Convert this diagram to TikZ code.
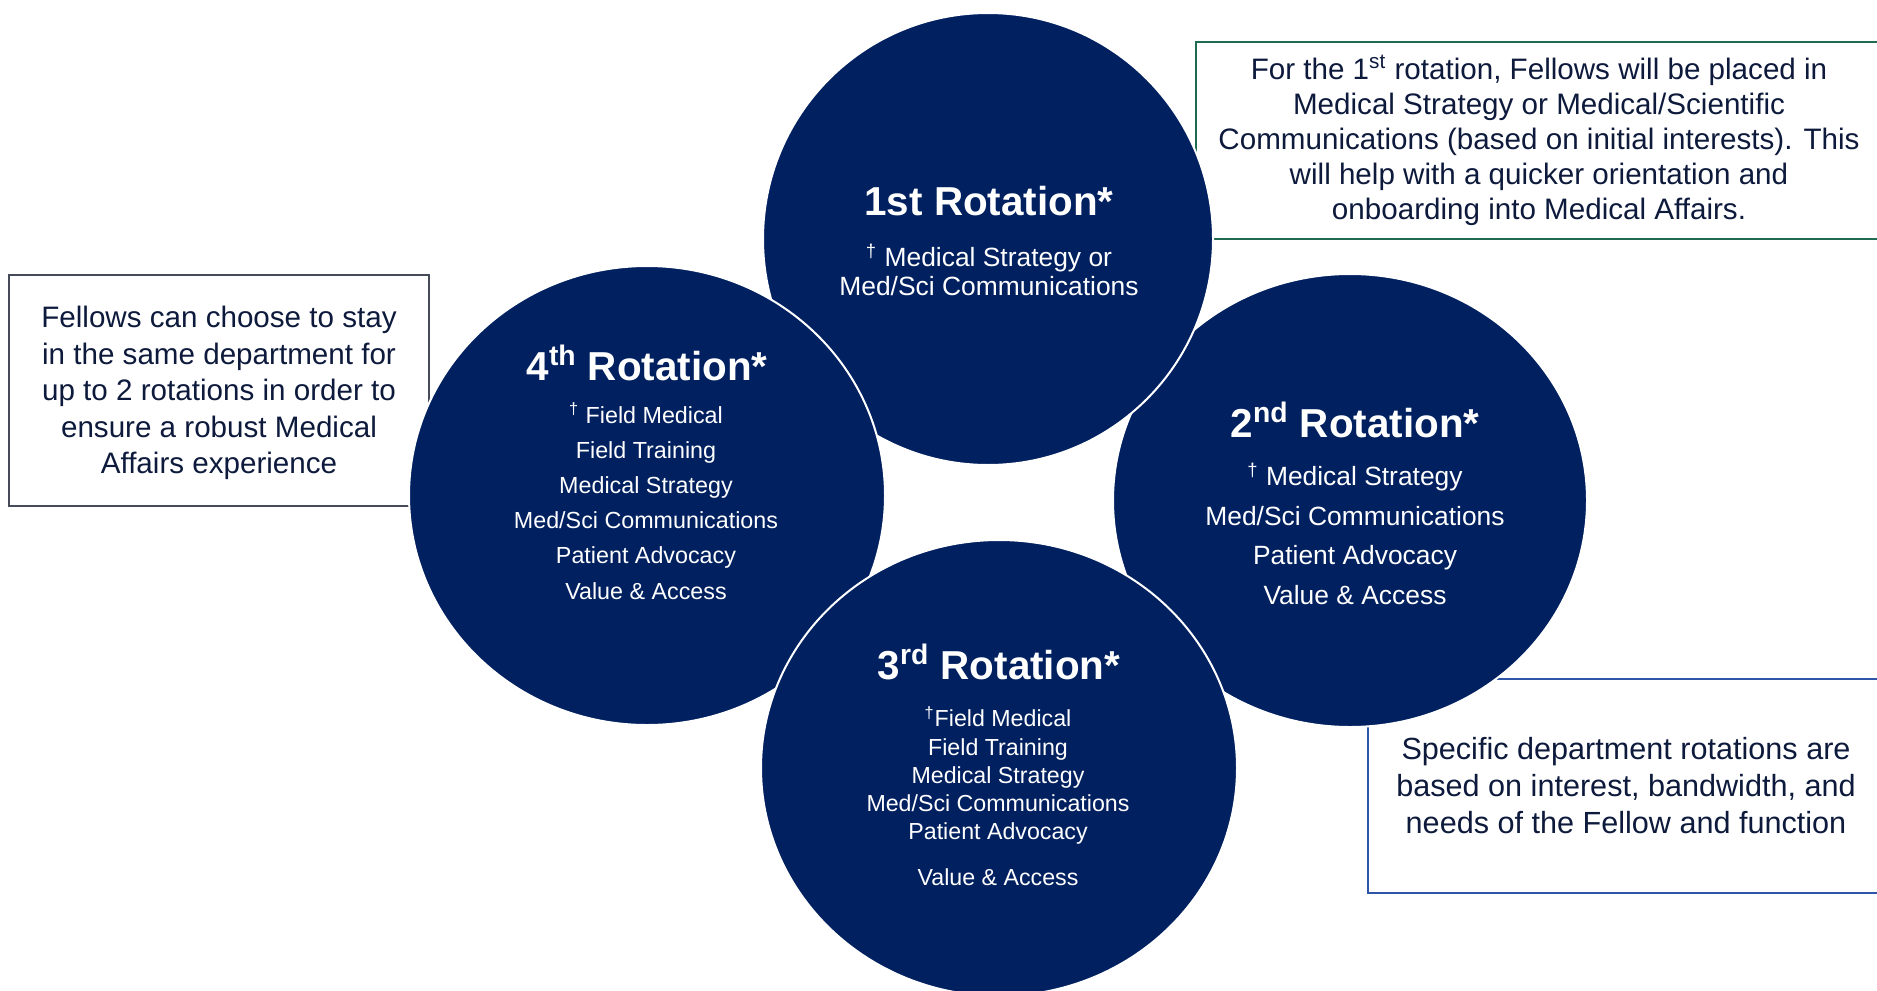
\documentclass[tikz,border=0pt]{standalone}
\usepackage{fontspec}
\setmainfont{Liberation Sans}
\usetikzlibrary{shapes.geometric}
\definecolor{navy}{HTML}{002060}
\definecolor{ink}{HTML}{0D1A3C}
\definecolor{boxgreen}{HTML}{1E6B50}
\definecolor{boxgray}{HTML}{454B58}
\definecolor{boxblue}{HTML}{2F55A8}
\begin{document}
\begin{tikzpicture}[x = 0.5pt, y = -0.5pt,
                    rnode/.style = {shape = ellipse,
                                    fill = navy,
                                    draw = white,
                                    line width = 1pt,
                                    inner sep = 0pt},
                    tnode/.style = {text = white,
                                    inner sep = 0pt,
                                    font = \fontsize{20.2}{24}\selectfont\bfseries},
                    bnode/.style = {text = white,
                                    inner sep = 0pt,
                                    align = center},
                    note/.style = {shape = rectangle,
                                   line width = 1pt,
                                   text = ink,
                                   align = center,
                                   inner sep = 0pt}]
		\useasboundingbox (0,0) rectangle (1877,990);
		\clip (0,0) rectangle (1877,990);
		% side notes, behind the circles
		\node[note, draw = boxgray, minimum width = 210pt, minimum height = 115.5pt,
		      font = \fontsize{14.8}{18.25}\selectfont] (left) at (219,390.5)
		      {\\[-5pt]Fellows can choose to stay\\in the same department for\\up to 2 rotations in order to\\ensure a robust Medical\\Affairs experience};
		\node[note, draw = boxgreen, minimum width = 343pt, minimum height = 98.5pt,
		      font = \fontsize{14.8}{17.5}\selectfont] (top) at (1539,140.5)
		      {For the 1\textsuperscript{st} rotation, Fellows will be placed in\\Medical Strategy or Medical/Scientific\\Communications (based on initial interests). This\\will help with a quicker orientation and\\onboarding into Medical Affairs.};
		\node[note, draw = boxblue, minimum width = 258pt, minimum height = 107pt,
		      font = \fontsize{15.3}{18.5}\selectfont] (bottom) at (1626,786)
		      {Specific department rotations are\\based on interest, bandwidth, and\\needs of the Fellow and function};
		% rotation circles
		\node[rnode, minimum width = 237pt, minimum height = 226.5pt] (2) at (1350,500.5) {};
		\node[rnode, minimum width = 225pt, minimum height = 226pt] (1) at (988,239) {};
		\node[rnode, minimum width = 238pt, minimum height = 229.5pt] (4) at (647,495.5) {};
		\node[rnode, minimum width = 238pt, minimum height = 228pt] (3) at (999,768) {};
		% texts
		\node[tnode] (t1) at (989,201) {1st Rotation*};
		\node[bnode, font = \fontsize{13.2}{14.35}\selectfont] (b1) at (989,270)
		      {\textsuperscript{†} Medical Strategy or\\Med/Sci Communications};
		\node[tnode] (t2) at (1355,420) {2\textsuperscript{nd} Rotation*};
		\node[bnode, font = \fontsize{13.2}{19.75}\selectfont] (b2) at (1355,534)
		      {\textsuperscript{†} Medical Strategy\\Med/Sci Communications\\Patient Advocacy\\Value \& Access};
		\node[tnode] (t3) at (999,662) {3\textsuperscript{rd} Rotation*};
		\node[bnode, font = \fontsize{11.6}{14.15}\selectfont] (b3) at (998,796)
		      {\textsuperscript{†}Field Medical\\Field Training\\Medical Strategy\\Med/Sci Communications\\Patient Advocacy\\[8.6pt]Value \& Access};
		\node[tnode] (t4) at (647,363) {4\textsuperscript{th} Rotation*};
		\node[bnode, font = \fontsize{11.65}{17.6}\selectfont] (b4) at (646,501)
		      {\textsuperscript{†} Field Medical\\Field Training\\Medical Strategy\\Med/Sci Communications\\Patient Advocacy\\Value \& Access};
	\end{tikzpicture}
\end{document}
